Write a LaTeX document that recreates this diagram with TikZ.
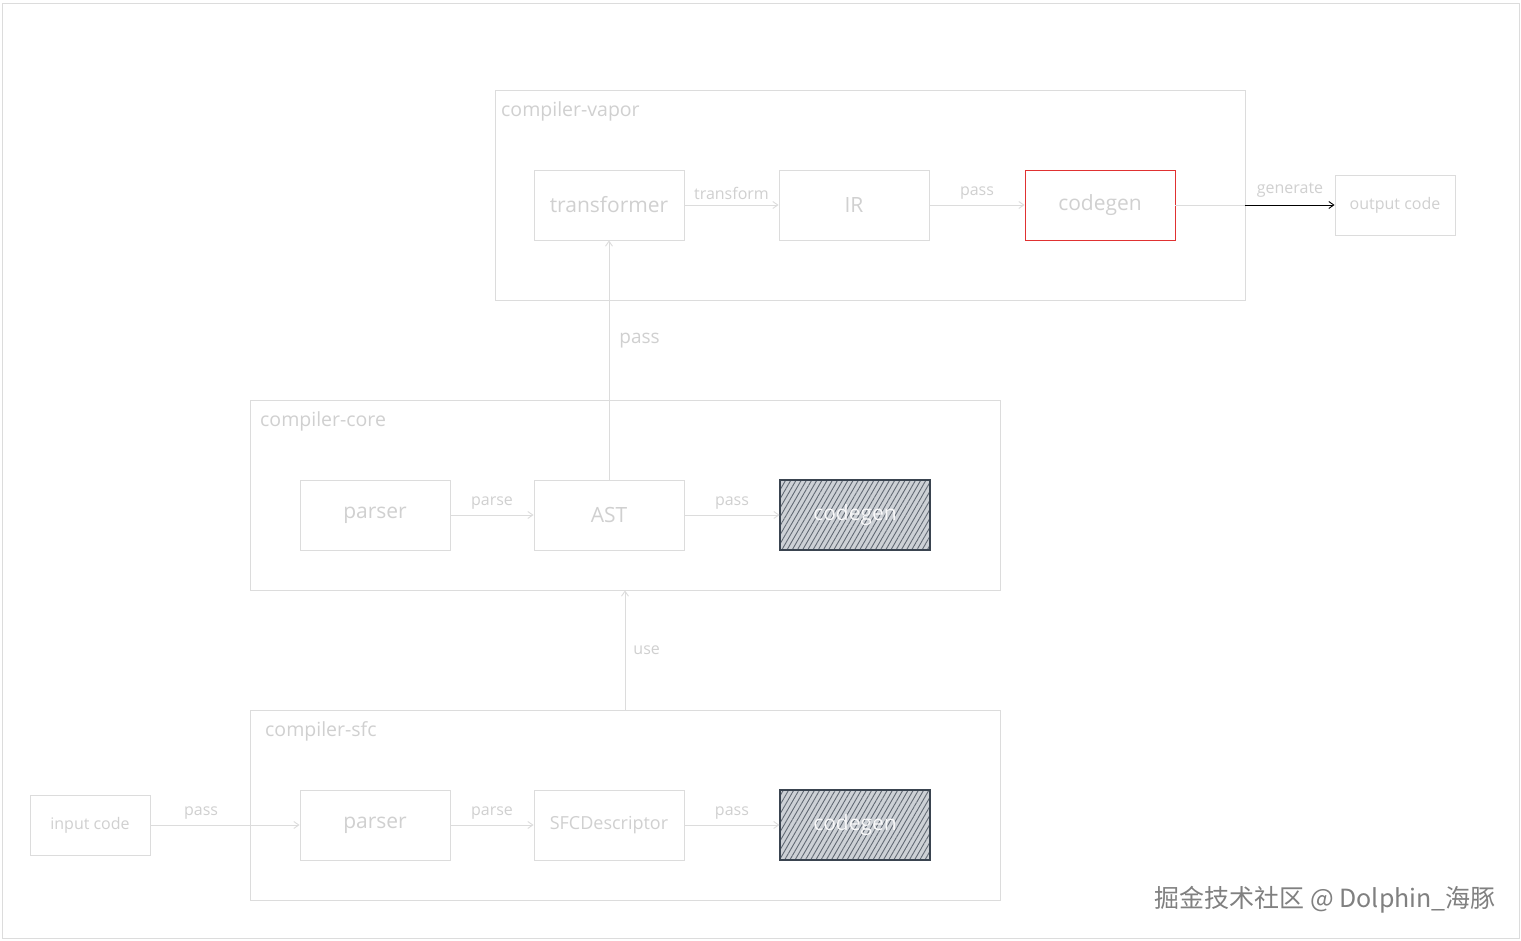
\documentclass[tikz,border=0pt]{standalone}
\usepackage{fontspec}
\setmainfont{Open Sans}
\newfontfamily\cjkfont{Noto Sans CJK SC}
\usepackage{xcolor}
\usetikzlibrary{arrows.meta,patterns,patterns.meta,positioning}
\definecolor{linegray}{HTML}{DCDCDC}
\definecolor{textgray}{HTML}{D0D0D0}
\definecolor{hatchdark}{HTML}{3A4450}
\definecolor{hatchbg}{HTML}{CDD1D6}
\definecolor{sketchred}{HTML}{E03131}
\tikzset{
    group/.style={draw=linegray, line width=0.9pt, minimum width=750pt, minimum height=#1, inner sep=0pt},
    grouptitle/.style={anchor=west, text=textgray, font=\fontsize{19.5}{22}\selectfont, inner sep=0pt},
    blk/.style={draw=linegray, line width=0.9pt, minimum width=150pt, minimum height=70pt, inner sep=0pt, text=textgray, font=\fontsize{21}{24}\selectfont},
    ioblk/.style={blk, minimum width=120pt, minimum height=60pt, font=\fontsize{16}{19}\selectfont},
    hatched/.style={blk, draw=hatchdark, line width=1.2pt, preaction={fill=hatchbg}, pattern={Lines[angle=60,distance=4.5pt,line width=0.9pt]}, pattern color=hatchdark!80, text=white!85!hatchbg},
    conn/.style={draw=linegray, line width=0.9pt, -{Straight Barb[length=5pt,width=7pt]}},
    connlabel/.style={text=textgray, font=\fontsize{16}{19}\selectfont, inner sep=5pt}}

\begin{document}
\begin{tikzpicture}[x=1pt,y=-1pt]
\useasboundingbox (0,0) rectangle (1521,941);
\fill[white] (0,0) rectangle (1521,941);
\draw[linegray, line width=0.9pt] (2,3) rectangle (1519,938);

%groups
\node[group=210pt] (vapor) at (870,195) {};
\node[group=190pt] (core) at (625,495) {};
\node[group=190pt] (sfc) at (625,805) {};
\node[grouptitle] at (501,111) {compiler-vapor};
\node[grouptitle] at (260,421) {compiler-core};
\node[grouptitle] at (265,731) {compiler-sfc};

%compiler-vapor
\node[blk] (transformer) at (609,205) {transformer};
\node[blk] (ir) at (854,205) {IR};
\node[blk, draw=sketchred] (vcodegen) at (1100,205) {codegen};
\node[ioblk] (output) at (1395,205) {output code};
\coordinate (gen) at (vapor.east |- vcodegen.east);

%compiler-core
\node[blk] (cparser) at (375,515) {parser};
\node[blk] (ast) at (609,515) {AST};
\node[hatched] (ccodegen) at (855,515) {codegen};

%compiler-sfc
\node[ioblk] (input) at (90,825) {input code};
\node[blk] (sparser) at (375,825) {parser};
\node[blk, font=\fontsize{18}{21}\selectfont] (sfcdesc) at (609,825) {SFCDescriptor};
\node[hatched] (scodegen) at (855,825) {codegen};

%draw lines
\draw[conn] (transformer) -- (ir) node[midway, above, connlabel] {transform};
\draw[conn] (ir) -- (vcodegen) node[midway, above, connlabel] {pass};
\draw[linegray, line width=0.9pt] (vcodegen.east) -- (gen);
\draw[black, line width=0.9pt, -{Straight Barb[length=5pt,width=7pt]}] (gen) -- (output) node[midway, above, connlabel, inner sep=7pt] {generate};

\draw[conn] (ast) -- (transformer) node[pos=0.58, right=10pt, connlabel, font=\fontsize{19}{22}\selectfont, inner sep=0pt] {pass};
\draw[conn] (cparser) -- (ast) node[midway, above, connlabel] {parse};
\draw[conn] (ast) -- (ccodegen) node[midway, above, connlabel] {pass};

\draw[conn] (sfc.north) -- (core.south) node[midway, right=3pt, connlabel] {use};
\draw[conn] (input) -- (sparser) node[pos=0.34, above, connlabel] {pass};
\draw[conn] (sparser) -- (sfcdesc) node[midway, above, connlabel] {parse};
\draw[conn] (sfcdesc) -- (scodegen) node[midway, above, connlabel] {pass};

%watermark
\node[anchor=east, text=black!50, font=\cjkfont\fontsize{25}{28}\selectfont, inner sep=0pt] (mark) at (1496,900) {掘金技术社区 @ Dolphin\_海豚};
\end{tikzpicture}
\end{document}
